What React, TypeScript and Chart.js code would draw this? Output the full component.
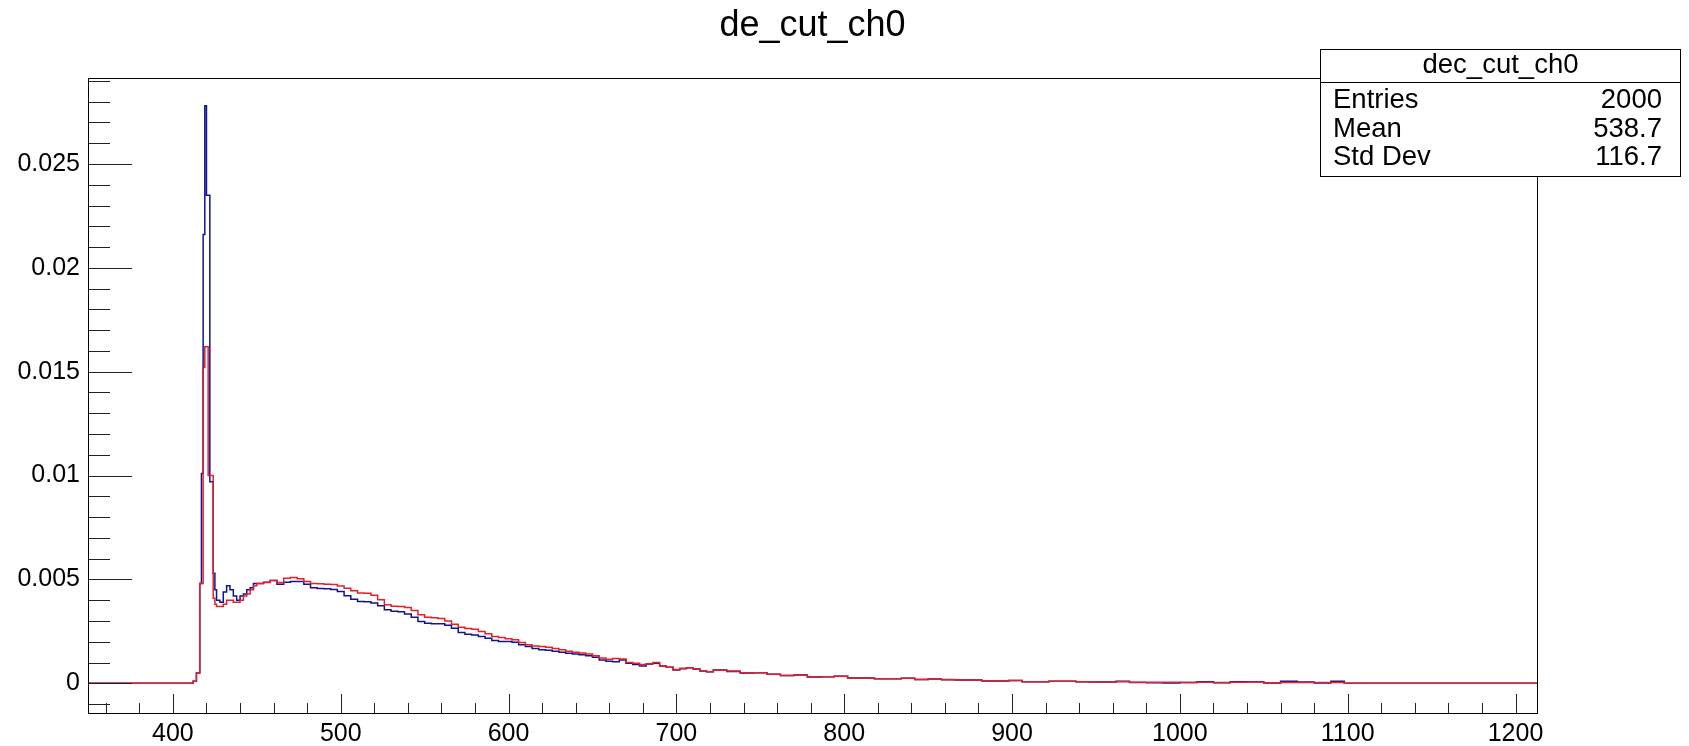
import { useEffect, useRef } from "react";
import { Chart, registerables } from "chart.js";

Chart.register(...registerables);

const chartTitle = "de_cut_ch0";
const statsTitle = "dec_cut_ch0";
const statsLabels = ["Entries", "Mean", "Std Dev"];
const statsValues = ["2000", "538.7", "116.7"];

const xMajorTicks = [400, 500, 600, 700, 800, 900, 1000, 1100, 1200];
const xTickLabels = ["400", "500", "600", "700", "800", "900", "1000", "1100", "1200"];
const yMajorTicks = [0, 0.005, 0.01, 0.015, 0.02, 0.025];
const yTickLabels = ["0", "0.005", "0.01", "0.015", "0.02", "0.025"];

const binEdges = [
  350, 412, 414, 416, 417, 418, 419, 420, 421, 422, 424, 425, 426, 428,
  430, 432, 434, 436, 438, 440, 442, 444, 446, 448, 450,
  454, 458, 462, 466, 470, 474, 478, 482, 486, 490, 494, 498, 502, 506, 510,
  514, 518, 522, 526, 530, 534, 538, 542, 546, 550, 554, 558, 562, 566, 570,
  574, 578, 582, 586, 590, 594, 598, 602, 606, 610, 614, 618, 622, 626, 630,
  634, 638, 642, 646, 650, 654, 658, 662, 666, 670, 674, 678, 682, 686, 690,
  694, 698, 702, 706, 710, 714, 718, 722,
  730, 738, 746, 754, 762, 770, 778, 786, 794, 802, 810, 818, 826, 834, 842,
  850, 858, 866, 874, 882, 890, 898, 906, 914, 922, 930, 938, 946, 954,
  962, 970, 980, 990, 1000, 1010, 1020, 1030, 1040, 1050, 1060, 1070, 1080, 1090, 1098,
  1212.8,
];

const blueValues = [
  0, 0.0001, 0.0005, 0.0048, 0.0101, 0.0216, 0.0278, 0.0235, 0.0235, 0.0097, 0.0053, 0.0045, 0.004,
  0.0039, 0.0044, 0.0047, 0.0045, 0.0042, 0.004, 0.0042, 0.0043, 0.0045, 0.0046, 0.0048,
  0.0048, 0.00487, 0.00495, 0.00477, 0.00487, 0.0049, 0.0049, 0.00477, 0.0046, 0.00456, 0.00455,
  0.00452, 0.00442, 0.00421, 0.00405, 0.00394, 0.00392, 0.00386, 0.00373, 0.00354, 0.00347,
  0.00344, 0.00334, 0.00318, 0.00297, 0.00289, 0.00287, 0.00287, 0.0028, 0.00265, 0.00244,
  0.00236, 0.00233, 0.00225, 0.00217, 0.00206, 0.00201, 0.00201, 0.00198, 0.00185, 0.00177,
  0.00167, 0.00162, 0.00159, 0.00154, 0.00149, 0.00145, 0.00141, 0.00138, 0.00133, 0.00125,
  0.00112, 0.00106, 0.00104, 0.00112, 0.00097, 0.0009, 0.00083, 0.00093, 0.00097, 0.00083,
  0.00077, 0.00064, 0.0007, 0.00075, 0.00069, 0.00059, 0.00056,
  0.00064, 0.00057, 0.00049, 0.00051, 0.00043, 0.00038, 0.0004, 0.0003, 0.00032, 0.00034,
  0.00026, 0.00025, 0.00022, 0.00022, 0.00024, 0.00018, 0.00021, 0.00017, 0.00016, 0.00016,
  0.00011, 0.00011, 0.00013, 0.00008, 0.00008, 0.0001, 0.0001, 0.00008, 0.00006,
  0.00006, 0.0001, 0.00004, 0.00003, 0.00002, 0.00004, 0.00008, 0.00003, 0.00008, 0.00008,
  0.00002, 0.0001, 0.00006, 0.00002, 0.0001,
  0,
];

const redValues = [
  0, 0.0001, 0.0005, 0.0048, 0.0048, 0.0152, 0.0162, 0.0162, 0.01, 0.01, 0.0041, 0.0038, 0.0037,
  0.0037, 0.0038, 0.004, 0.004, 0.0039, 0.0039, 0.004, 0.0042, 0.0043, 0.0045, 0.0047,
  0.0048, 0.00485, 0.00495, 0.00485, 0.00506, 0.00509, 0.00503, 0.0049, 0.0048, 0.00479, 0.00477,
  0.00476, 0.00469, 0.00458, 0.00445, 0.00435, 0.00434, 0.00424, 0.00402, 0.00378, 0.00371,
  0.0037, 0.00365, 0.0035, 0.0033, 0.00318, 0.00315, 0.00312, 0.003, 0.00284, 0.0027,
  0.00264, 0.0026, 0.00249, 0.00238, 0.00225, 0.0022, 0.00215, 0.0021, 0.00196, 0.00186,
  0.0018, 0.00177, 0.00174, 0.00167, 0.00161, 0.00154, 0.00149, 0.00146, 0.00141, 0.00133,
  0.00122, 0.00116, 0.00119, 0.00117, 0.001, 0.00096, 0.0009, 0.00093, 0.001, 0.00083,
  0.00077, 0.00067, 0.00072, 0.00075, 0.00069, 0.00059, 0.00056,
  0.00064, 0.00059, 0.00051, 0.00051, 0.00043, 0.00038, 0.0004, 0.00032, 0.00032, 0.00034,
  0.00026, 0.00026, 0.00022, 0.00022, 0.00024, 0.00018, 0.00021, 0.00018, 0.00016, 0.00016,
  0.00011, 0.00011, 0.00013, 0.00008, 0.00008, 0.0001, 0.0001, 0.00008, 0.00006,
  0.00006, 0.00008, 0.00005, 0.00005, 0.00005, 0.00004, 0.00005, 0.00004, 0.00005, 0.00006,
  0.00003, 0.00004, 0.00004, 0.00004, 0.00004,
  0,
];

const FONT = "'Liberation Sans', Arial, Helvetica, sans-serif";
const BLUE = "#14148c";
const RED = "#e4202a";

function toSteps(values: number[]) {
  const pts = values.map((v, i) => ({ x: binEdges[i], y: v }));
  pts.push({ x: binEdges[values.length], y: values[values.length - 1] });
  return pts;
}

const rootFrame = {
  id: "rootFrame",
  afterDatasetsDraw(chart: any) {
    const { ctx, chartArea: a, scales } = chart;
    const x = scales.x;
    const y = scales.y;
    ctx.save();
    ctx.strokeStyle = "#222";
    ctx.lineWidth = 1;
    for (let k = -1; k <= 29; k++) {
      const v = k * 0.001;
      const py = Math.round(y.getPixelForValue(v)) + 0.5;
      if (py < a.top || py > a.bottom) continue;
      const len = k % 5 === 0 ? 44 : 22;
      ctx.beginPath();
      ctx.moveTo(a.left, py);
      ctx.lineTo(a.left + len, py);
      ctx.stroke();
    }
    for (let v = 360; v <= 1212; v += 20) {
      const px = Math.round(x.getPixelForValue(v)) + 0.5;
      const len = v % 100 === 0 ? 19 : 10;
      ctx.beginPath();
      ctx.moveTo(px, a.bottom);
      ctx.lineTo(px, a.bottom - len);
      ctx.stroke();
    }
    ctx.strokeStyle = "#000";
    ctx.strokeRect(
      Math.round(a.left) + 0.5,
      Math.round(a.top) + 0.5,
      Math.round(a.right - a.left),
      Math.round(a.bottom - a.top)
    );
    ctx.restore();
  },
  afterDraw(chart: any) {
    const { ctx, chartArea: a } = chart;
    ctx.save();
    ctx.fillStyle = "#000";
    ctx.font = `36px ${FONT}`;
    ctx.textAlign = "center";
    ctx.textBaseline = "alphabetic";
    ctx.fillText(chartTitle, (a.left + a.right) / 2, 36);
    const bx = 1320.5, by = 49.5, bw = 360, bh = 127;
    ctx.fillStyle = "#fff";
    ctx.fillRect(bx, by, bw, bh);
    ctx.strokeStyle = "#000";
    ctx.lineWidth = 1;
    ctx.strokeRect(bx, by, bw, bh);
    ctx.beginPath();
    ctx.moveTo(bx, 82.5);
    ctx.lineTo(bx + bw, 82.5);
    ctx.stroke();
    ctx.fillStyle = "#000";
    ctx.font = `27.5px ${FONT}`;
    ctx.textAlign = "center";
    ctx.fillText(statsTitle, bx + bw / 2, 73);
    const baselines = [108, 136.5, 165];
    statsLabels.forEach((lab, i) => {
      ctx.textAlign = "left";
      ctx.fillText(lab, 1333, baselines[i]);
      ctx.textAlign = "right";
      ctx.fillText(statsValues[i], 1662, baselines[i]);
    });
    ctx.restore();
  },
};

export default function App() {
  const canvasRef = useRef<HTMLCanvasElement | null>(null);

  useEffect(() => {
    if (!canvasRef.current) return;
    const chart = new Chart(canvasRef.current, {
      type: "line",
      data: {
        datasets: [
          {
            label: "red",
            data: toSteps(redValues),
            borderColor: RED,
            borderWidth: 1.5,
            stepped: "before",
            pointRadius: 0,
            fill: false,
          },
          {
            label: "blue",
            data: toSteps(blueValues),
            borderColor: BLUE,
            borderWidth: 1.5,
            stepped: "before",
            pointRadius: 0,
            fill: false,
          },
        ],
      },
      options: {
        animation: false,
        responsive: false,
        devicePixelRatio: 1,
        layout: { padding: { left: 0, top: 78, right: 152, bottom: 0 } },
        plugins: {
          legend: { display: false },
          tooltip: { enabled: false },
          title: { display: false },
        },
        scales: {
          x: {
            type: "linear",
            min: 349.4,
            max: 1212.8,
            grid: { display: false, drawTicks: false },
            border: { display: false },
            afterBuildTicks: (s: any) => {
              s.ticks = xMajorTicks.map((v) => ({ value: v }));
            },
            afterFit: (s: any) => {
              s.height = 33;
            },
            ticks: {
              autoSkip: false,
              maxRotation: 0,
              minRotation: 0,
              padding: 6,
              color: "#000",
              font: { family: FONT, size: 25 },
              callback: (_v: any, i: number) => xTickLabels[i],
            },
          },
          y: {
            type: "linear",
            min: -0.00143,
            max: 0.02914,
            grid: { display: false, drawTicks: false },
            border: { display: false },
            afterBuildTicks: (s: any) => {
              s.ticks = yMajorTicks.map((v) => ({ value: v }));
            },
            afterFit: (s: any) => {
              s.width = 88;
            },
            ticks: {
              autoSkip: false,
              padding: 8,
              color: "#000",
              font: { family: FONT, size: 25 },
              callback: (_v: any, i: number) => yTickLabels[i],
            },
          },
        },
      },
      plugins: [rootFrame],
    } as any);
    return () => chart.destroy();
  }, []);

  return (
    <div style={{ position: "absolute", left: 0, top: 0, width: 1689, height: 746, background: "#fff" }}>
      <canvas ref={canvasRef} width={1689} height={746} style={{ width: 1689, height: 746, display: "block" }} />
    </div>
  );
}
